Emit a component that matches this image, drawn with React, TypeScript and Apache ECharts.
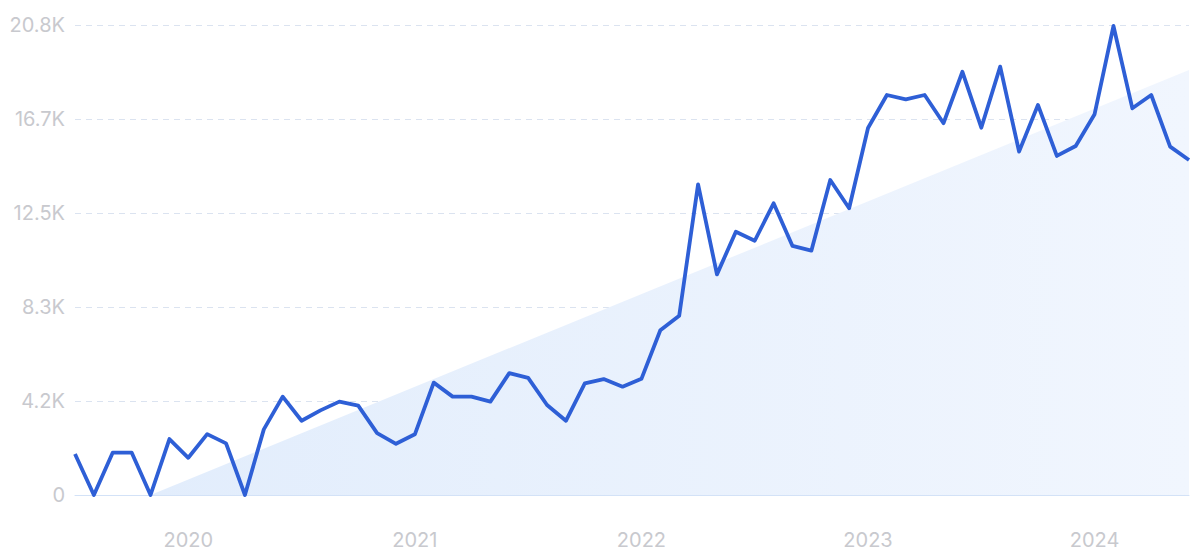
import React, { useEffect, useRef } from "react";
import * as echarts from "echarts";

const months: string[] = [
  "2019-07", "2019-08", "2019-09", "2019-10", "2019-11", "2019-12",
  "2020-01", "2020-02", "2020-03", "2020-04", "2020-05", "2020-06",
  "2020-07", "2020-08", "2020-09", "2020-10", "2020-11", "2020-12",
  "2021-01", "2021-02", "2021-03", "2021-04", "2021-05", "2021-06",
  "2021-07", "2021-08", "2021-09", "2021-10", "2021-11", "2021-12",
  "2022-01", "2022-02", "2022-03", "2022-04", "2022-05", "2022-06",
  "2022-07", "2022-08", "2022-09", "2022-10", "2022-11", "2022-12",
  "2023-01", "2023-02", "2023-03", "2023-04", "2023-05", "2023-06",
  "2023-07", "2023-08", "2023-09", "2023-10", "2023-11", "2023-12",
  "2024-01", "2024-02", "2024-03", "2024-04", "2024-05", "2024-06",
];

const searchVolume: number[] = [
  1820, 0, 1880, 1880, 0, 2480, 1650, 2700, 2290, 0,
  2910, 4360, 3290, 3750, 4140, 3960, 2740, 2270, 2690, 4980,
  4360, 4360, 4140, 5400, 5190, 3990, 3290, 4950, 5140, 4800,
  5150, 7300, 7950, 13770, 9780, 11670, 11270, 12930, 11040, 10830,
  13960, 12710, 16270, 17730, 17540, 17730, 16480, 18760, 16280, 18990,
  15220, 17290, 15030, 15470, 16880, 20790, 17140, 17730, 15440, 14850,
];

// Trend area: only its two end points are given; the line between them is drawn by connectNulls.
const trendStartIndex = 4;
const trendStartValue = 0;
const trendEndIndex = 59;
const trendEndValue = 18840;

const yMax = 20833.33;
const yInterval = yMax / 5;

export default function App() {
  const ref = useRef<HTMLDivElement>(null);

  useEffect(() => {
    if (!ref.current) return;
    const chart = echarts.init(ref.current, undefined, { renderer: "svg" });

    const trendData: (number | null)[] = months.map(() => null);
    trendData[trendStartIndex] = trendStartValue;
    trendData[trendEndIndex] = trendEndValue;

    const labelColor = "#c8c9ce";
    const font = "Inter, 'Noto Sans', sans-serif";

    chart.setOption({
      animation: false,
      backgroundColor: "#ffffff",
      grid: { left: 75, right: 11, top: 25, bottom: 65 },
      xAxis: {
        type: "category",
        data: months,
        boundaryGap: false,
        axisLine: { show: true, lineStyle: { color: "#d3e2f7", width: 1 } },
        axisTick: { show: false },
        splitLine: { show: false },
        axisLabel: {
          interval: (index: number) => months[index].endsWith("-01"),
          formatter: (v: string) => v.slice(0, 4),
          color: labelColor,
          fontSize: 20,
          fontFamily: font,
          margin: 35,
        },
      },
      yAxis: {
        type: "value",
        min: 0,
        max: yMax,
        interval: yInterval,
        axisLine: { show: false },
        axisTick: { show: false },
        splitLine: {
          show: true,
          lineStyle: { color: "#dbe3f0", type: [6, 5], width: 1 },
        },
        axisLabel: {
          formatter: (v: number) => (v === 0 ? "0" : (v / 1000).toFixed(1) + "K"),
          color: labelColor,
          fontSize: 20,
          fontFamily: font,
          margin: 10,
        },
      },
      series: [
        {
          type: "line",
          data: trendData,
          connectNulls: true,
          symbol: "none",
          lineStyle: { width: 0, opacity: 0 },
          areaStyle: {
            opacity: 1,
            color: new echarts.graphic.LinearGradient(0, 0, 1, 0, [
              { offset: 0, color: "#e2edfc" },
              { offset: 1, color: "#f1f6fe" },
            ]),
          },
          z: 1,
        },
        {
          type: "line",
          data: searchVolume,
          symbol: "none",
          lineStyle: { color: "#2e5fd6", width: 3.8, join: "round" },
          z: 3,
        },
      ],
    });

    return () => chart.dispose();
  }, []);

  return (
    <div
      ref={ref}
      style={{ position: "absolute", left: 0, top: 0, width: 1200, height: 560 }}
    />
  );
}
